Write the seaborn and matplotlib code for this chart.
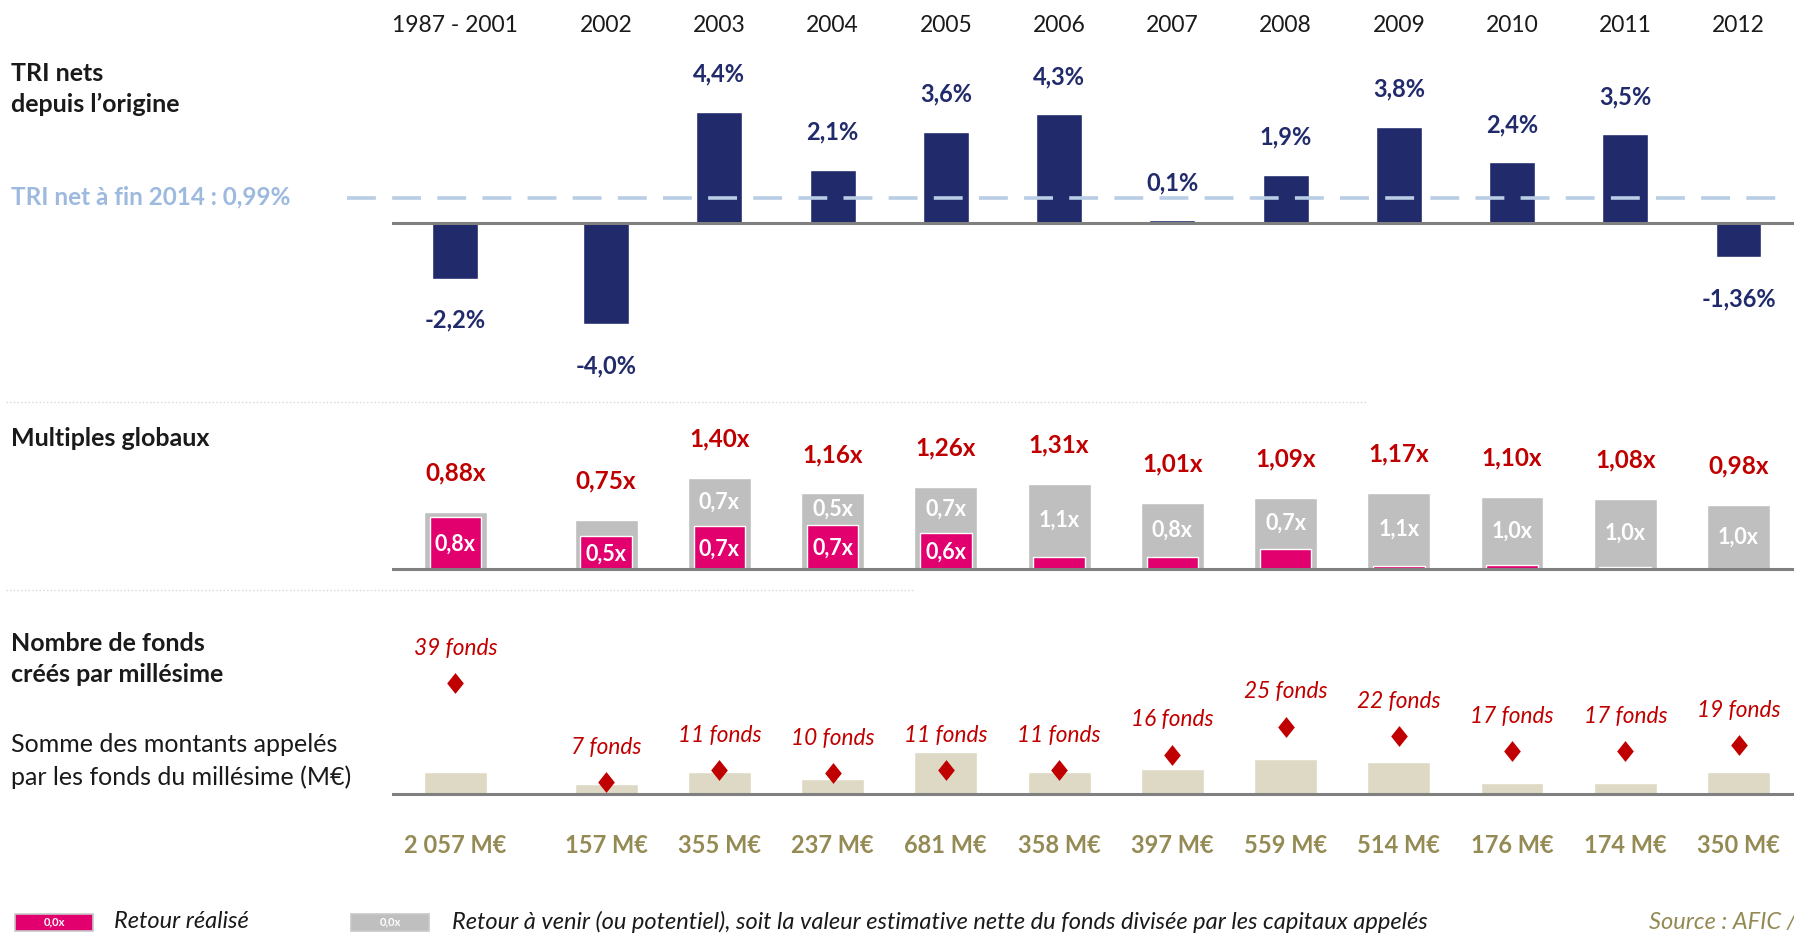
import numpy as np
import matplotlib.pyplot as plt
import seaborn as sns
from matplotlib import transforms
from matplotlib.patches import Rectangle

# Données
annees = ["1987 - 2001", "2002", "2003", "2004", "2005", "2006", "2007",
          "2008", "2009", "2010", "2011", "2012"]
tri = [-2.2, -4.0, 4.4, 2.1, 3.6, 4.3, 0.1, 1.9, 3.8, 2.4, 3.5, -1.36]
tri_labels = ["-2,2%", "-4,0%", "4,4%", "2,1%", "3,6%", "4,3%", "0,1%",
              "1,9%", "3,8%", "2,4%", "3,5%", "-1,36%"]
tri_fin_2014 = 0.99

multiple_total = [0.88, 0.75, 1.40, 1.16, 1.26, 1.31, 1.01, 1.09, 1.17, 1.10, 1.08, 0.98]
multiple_realise = [0.80, 0.50, 0.66, 0.67, 0.56, 0.19, 0.19, 0.31, 0.05, 0.06, 0.03, 0.0]
realise_labels = ["0,8x", "0,5x", "0,7x", "0,7x", "0,6x", "", "", "", "", "", "", ""]
a_venir_labels = ["", "", "0,7x", "0,5x", "0,7x", "1,1x", "0,8x", "0,7x",
                  "1,1x", "1,0x", "1,0x", "1,0x"]

nb_fonds = [39, 7, 11, 10, 11, 11, 16, 25, 22, 17, 17, 19]
montants = [2057, 157, 355, 237, 681, 358, 397, 559, 514, 176, 174, 350]
montant_labels = ["2 057 M€", "157 M€", "355 M€", "237 M€", "681 M€", "358 M€",
                  "397 M€", "559 M€", "514 M€", "176 M€", "174 M€", "350 M€"]

# Couleurs
NAVY = "#212B6B"
PINK = "#E2006E"
GRAY = "#BFBFBF"
RED = "#C00000"
BEIGE = "#DDD9C4"
OLIVE = "#948A54"
LIGHTBLUE = "#B9CDE5"
BASE = "#808080"
TXT = "#1A1A1A"

sns.set_style("white")
plt.rcParams["font.family"] = ["Lato", "DejaVu Sans"]

W, H = 1794, 936
fig = plt.figure(figsize=(W / 100, H / 100), dpi=100)

# la première colonne (1987-2001) est un peu décalée
x = np.arange(len(annees), dtype=float)
x[0] -= 0.33

L = 392 / W
AW = 1 - L
XLIM = (-0.89, 11.49)


def px_axes(top, bottom):
    return fig.add_axes([L, 1 - bottom / H, AW, (bottom - top) / H])


def clean(ax):
    ax.set_xlim(*XLIM)
    ax.set_axis_off()


# ---------- TRI nets ----------
ax1 = px_axes(50, 380)
sns.barplot(x=x, y=tri, native_scale=True, width=0.406, color=NAVY,
            saturation=1, errorbar=None, ax=ax1)
clean(ax1)
ax1.set_ylim(-6.2, 6.83)
ax1.axhline(0, color=BASE, lw=2.2, zorder=3)
ax1.plot([-0.032, 0.988], [tri_fin_2014] * 2, transform=ax1.get_yaxis_transform(),
         color=LIGHTBLUE, lw=2.6, dashes=(8, 4.5), clip_on=False, zorder=4)
for xi, v, lab in zip(x, tri, tri_labels):
    off = 27 if v >= 0 else -30
    ax1.annotate(lab, (xi, v), xytext=(0, off), textcoords="offset points",
                 ha="center", va="center", fontsize=17, fontweight="bold", color=NAVY)

# en-têtes années
tr = transforms.blended_transform_factory(ax1.transData, fig.transFigure)
for xi, a in zip(x, annees):
    fig.text(xi, 1 - 25 / H, a, transform=tr, ha="center", va="center",
             fontsize=16.5, color=TXT)

# ---------- Multiples ----------
ax2 = px_axes(400, 590)
sns.barplot(x=x, y=multiple_total, native_scale=True, width=0.556, color=GRAY,
            saturation=1, errorbar=None, ax=ax2)
sns.barplot(x=x, y=multiple_realise, native_scale=True, width=0.455, color=PINK,
            saturation=1, errorbar=None, ax=ax2)
clean(ax2)
ax2.set_ylim(-0.32, 2.59)
ax2.axhline(0, color=BASE, lw=2.2, zorder=3)
for xi, tot, rea, lr, lv in zip(x, multiple_total, multiple_realise,
                                realise_labels, a_venir_labels):
    ax2.annotate(f"{tot:.2f}x".replace(".", ","), (xi, tot), xytext=(0, 28),
                 textcoords="offset points", ha="center", va="center",
                 fontsize=17.5, fontweight="bold", color=RED)
    if lv:
        ax2.text(xi, (tot + rea) / 2, lv, ha="center", va="center",
                 fontsize=15.5, fontweight="bold", color="white")
    if lr:
        ax2.text(xi, rea / 2 - 0.02, lr, ha="center", va="center",
                 fontsize=15.5, fontweight="bold", color="white")

# ---------- Nombre de fonds / montants ----------
ax3 = px_axes(620, 830)
hauteurs = np.array(montants, dtype=float)
hauteurs[0] = 360  # barre 1987-2001 tronquée
sns.barplot(x=x, y=hauteurs, native_scale=True, width=0.556,
            color=BEIGE, saturation=1, errorbar=None, ax=ax3)
clean(ax3)
ax3.set_ylim(-583, 2816)
ax3.axhline(0, color=BASE, lw=2.2, zorder=3)
for xi, lab in zip(x, montant_labels):
    ax3.annotate(lab, (xi, 0), xytext=(0, -37), textcoords="offset points",
                 ha="center", va="center", fontsize=17, fontweight="bold", color=OLIVE)

ax3b = ax3.twinx()
diamant = [(0, 1), (0.8, 0), (0, -1), (-0.8, 0)]
sns.scatterplot(x=x, y=nb_fonds, marker=diamant, s=15 ** 2, color=RED,
                linewidth=0, ax=ax3b, zorder=5)
clean(ax3b)
ax3b.set_ylim(-8.3, 59.3)
for xi, n in zip(x, nb_fonds):
    ax3b.annotate(f"{n} fonds", (xi, n), xytext=(0, 25), textcoords="offset points",
                  ha="center", va="center", fontsize=16.3, fontstyle="italic", color=RED)

# ---------- Textes de gauche ----------
def ftext(xp, yp, s, **kw):
    fig.text(xp / W, 1 - yp / H, s, va="center", **kw)


ftext(11, 89, "TRI nets\ndepuis l’origine", fontsize=18, fontweight="bold",
      color=TXT, linespacing=1.44)
ftext(11, 197, "TRI net à fin 2014 : 0,99%", fontsize=17.5, fontweight="bold",
      color="#9DB9DE")
ftext(11, 439, "Multiples globaux", fontsize=18, fontweight="bold", color=TXT)
ftext(11, 659, "Nombre de fonds\ncréés par millésime", fontsize=18,
      fontweight="bold", color=TXT, linespacing=1.44)
ftext(11, 761, "Somme des montants appelés\npar les fonds du millésime (M€)",
      fontsize=18, color=TXT, linespacing=1.44)

# séparateurs pointillés
fig.add_artist(plt.Line2D([6 / W, 1367 / W], [1 - 402 / H] * 2, color="#D9D9D9",
                          lw=1, ls=":"))
fig.add_artist(plt.Line2D([6 / W, 913 / W], [1 - 590 / H] * 2, color="#D9D9D9",
                          lw=1, ls=":"))

# ---------- Légende ----------
for x0, col in [(15, PINK), (351, GRAY)]:
    fig.add_artist(Rectangle((x0 / W, 1 - 931 / H), 78 / W, 17 / H,
                             facecolor=col, edgecolor="#C8C8C8", lw=1.2))
    fig.text((x0 + 39) / W, 1 - 922 / H, "0,0x", ha="center", va="center",
             fontsize=8, fontweight="bold", color="white")
ftext(114, 922, "Retour réalisé", fontsize=17, fontstyle="italic", color=TXT)
ftext(452, 922, "Retour à venir (ou potentiel), soit la valeur estimative nette "
      "du fonds divisée par les capitaux appelés", fontsize=17,
      fontstyle="italic", color=TXT)
ftext(1649, 922, "Source : AFIC /", fontsize=17, fontstyle="italic", color=OLIVE)

plt.savefig("out.png", dpi=100)
